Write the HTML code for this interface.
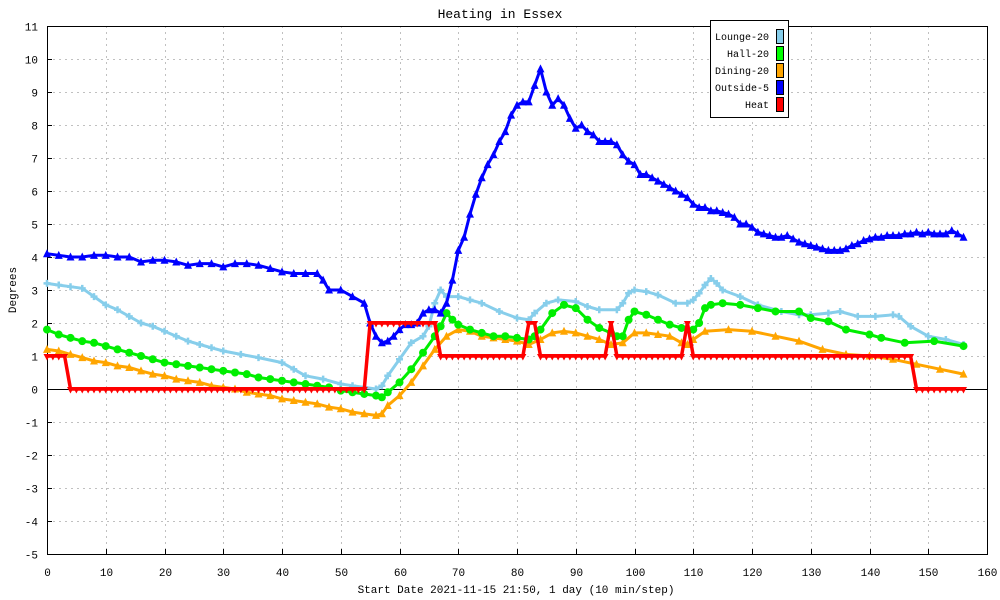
<!DOCTYPE html>
<html><head><meta charset="utf-8"><title>Heating in Essex</title>
<style>
html,body{margin:0;padding:0;background:#fff;}
svg{display:block;font-family:"Liberation Mono",monospace;}
</style></head>
<body>
<svg id="chart" width="1000" height="600" viewBox="0 0 1000 600" xmlns="http://www.w3.org/2000/svg">
<rect x="0" y="0" width="1000" height="600" fill="#fff"/>
<text x="500" y="18" text-anchor="middle" font-size="13">Heating in Essex</text>
<text transform="translate(16,290) rotate(-90)" text-anchor="middle" font-size="11">Degrees</text>
<text x="516" y="593" text-anchor="middle" font-size="11">Start Date 2021-11-15 21:50, 1 day (10 min/step)</text>
<g id="grid"></g>
<g id="axes"></g>
<g id="series"></g>
<g>
<rect x="710.5" y="20.5" width="78" height="97" fill="#fff" stroke="#000"/>
<g font-size="10" text-anchor="end">
<text x="769" y="40">Lounge-20</text>
<text x="769" y="57">Hall-20</text>
<text x="769" y="74">Dining-20</text>
<text x="769" y="91">Outside-5</text>
<text x="769" y="108">Heat</text>
</g>
<rect x="776.5" y="29.5" width="7" height="14" fill="#87ceeb" stroke="#000"/>
<rect x="776.5" y="46.5" width="7" height="14" fill="#00ff00" stroke="#000"/>
<rect x="776.5" y="63.5" width="7" height="14" fill="#ffa500" stroke="#000"/>
<rect x="776.5" y="80.5" width="7" height="14" fill="#0000ff" stroke="#000"/>
<rect x="776.5" y="97.5" width="7" height="14" fill="#ff0000" stroke="#000"/>
</g>
</svg>
<script>
const xTicks = [0,10,20,30,40,50,60,70,80,90,100,110,120,130,140,150,160];
const yTicks = [-5,-4,-3,-2,-1,0,1,2,3,4,5,6,7,8,9,10,11];

const outsideX = [0,2,4,6,8,10,12,14,16,18,20,22,24,26,28,30,32,34,36,38,40,42,44,46,47,48,50,52,54,55,56,57,58,59,60,61,62,63,64,65,66,67,68,69,70,71,72,73,74,75,76,77,78,79,80,81,82,83,84,85,86,87,88,89,90,91,92,93,94,95,96,97,98,99,100,101,102,103,104,105,106,107,108,109,110,111,112,113,114,115,116,117,118,119,120,121,122,123,124,125,126,127,128,129,130,131,132,133,134,135,136,137,138,139,140,141,142,143,144,145,146,147,148,149,150,151,152,153,154,155,156];
const outsideV = [4.1,4.05,4.0,4.0,4.05,4.05,4.0,4.0,3.85,3.9,3.9,3.85,3.75,3.8,3.8,3.7,3.8,3.8,3.75,3.65,3.55,3.5,3.5,3.5,3.3,3.0,3.0,2.8,2.6,2.0,1.6,1.4,1.45,1.6,1.8,1.95,1.95,2.0,2.3,2.4,2.4,2.3,2.6,3.3,4.2,4.6,5.3,5.9,6.4,6.8,7.1,7.5,7.8,8.3,8.6,8.7,8.7,9.2,9.7,9.0,8.6,8.8,8.6,8.2,7.9,8.0,7.8,7.7,7.5,7.5,7.5,7.4,7.1,6.9,6.8,6.5,6.5,6.4,6.3,6.2,6.1,6.0,5.9,5.8,5.6,5.5,5.5,5.4,5.4,5.35,5.3,5.2,5.0,5.0,4.9,4.75,4.7,4.65,4.6,4.6,4.65,4.55,4.45,4.4,4.35,4.3,4.25,4.2,4.2,4.2,4.25,4.35,4.4,4.5,4.55,4.6,4.6,4.65,4.65,4.65,4.7,4.7,4.75,4.7,4.75,4.7,4.7,4.7,4.8,4.7,4.6];

const loungeX = [0,2,4,6,8,10,12,14,16,18,20,22,24,26,28,30,33,36,40,42,44,47,50,52,54,56,57,58,60,62,64,65,66,67,68,70,72,74,77,80,82,83,85,87,90,92,94,97,98,99,100,102,104,107,109,110,111,112,113,114,115,118,121,125,128,130,133,135,138,141,144,145,147,150,153,156];
const loungeV = [3.2,3.15,3.1,3.05,2.8,2.55,2.4,2.2,2.0,1.9,1.75,1.6,1.45,1.35,1.25,1.15,1.05,0.95,0.8,0.6,0.4,0.3,0.15,0.1,0.05,0.0,0.1,0.4,0.9,1.4,1.6,1.9,2.6,3.0,2.8,2.8,2.7,2.6,2.35,2.15,2.1,2.3,2.6,2.7,2.65,2.5,2.4,2.4,2.6,2.9,3.0,2.95,2.85,2.6,2.6,2.7,2.9,3.15,3.35,3.2,3.0,2.8,2.55,2.35,2.25,2.25,2.3,2.35,2.2,2.2,2.25,2.2,1.9,1.6,1.5,1.35];

const hallX = [0,2,4,6,8,10,12,14,16,18,20,22,24,26,28,30,32,34,36,38,40,42,44,46,48,50,52,54,56,57,58,60,62,64,66,67,68,69,70,72,74,76,78,80,82,83,84,86,88,90,92,94,96,97,98,99,100,102,104,106,108,110,111,112,113,115,118,121,124,128,130,133,136,140,142,146,151,156];
const hallV = [1.8,1.65,1.55,1.45,1.4,1.3,1.2,1.1,1.0,0.9,0.8,0.75,0.7,0.65,0.6,0.55,0.5,0.45,0.35,0.3,0.25,0.2,0.15,0.1,0.05,-0.05,-0.1,-0.15,-0.2,-0.25,-0.1,0.2,0.6,1.1,1.6,1.9,2.3,2.1,1.95,1.8,1.7,1.6,1.6,1.55,1.5,1.6,1.8,2.3,2.55,2.45,2.1,1.85,1.7,1.6,1.6,2.1,2.35,2.25,2.1,1.95,1.85,1.8,2.0,2.45,2.55,2.6,2.55,2.45,2.35,2.35,2.15,2.05,1.8,1.65,1.55,1.4,1.45,1.3];

const diningX = [0,2,4,6,8,10,12,14,16,18,20,22,24,26,28,30,32,34,36,38,40,42,44,46,48,50,52,54,56,57,58,60,62,64,66,68,70,72,74,76,78,80,82,84,86,88,90,92,94,96,98,100,102,104,106,108,109,110,112,116,120,124,128,132,136,140,144,148,152,156];
const diningV = [1.2,1.15,1.05,0.95,0.85,0.8,0.7,0.65,0.55,0.45,0.4,0.3,0.25,0.2,0.1,0.05,0.0,-0.1,-0.15,-0.2,-0.3,-0.35,-0.4,-0.45,-0.55,-0.6,-0.7,-0.75,-0.8,-0.75,-0.5,-0.2,0.2,0.7,1.2,1.6,1.8,1.75,1.6,1.55,1.5,1.45,1.35,1.5,1.7,1.75,1.7,1.6,1.5,1.35,1.4,1.7,1.7,1.65,1.6,1.4,1.35,1.5,1.75,1.8,1.75,1.6,1.45,1.2,1.05,1.0,0.9,0.75,0.6,0.45];

const heatV = [1,1,1,1,0,0,0,0,0,0, 0,0,0,0,0,0,0,0,0,0, 0,0,0,0,0,0,0,0,0,0, 0,0,0,0,0,0,0,0,0,0, 0,0,0,0,0,0,0,0,0,0, 0,0,0,0,0,2,2,2,2,2, 2,2,2,2,2,2,2,1,1,1, 1,1,1,1,1,1,1,1,1,1, 1,1,2,2,1,1,1,1,1,1, 1,1,1,1,1,1,2,1,1,1, 1,1,1,1,1,1,1,1,1,2, 1,1,1,1,1,1,1,1,1,1, 1,1,1,1,1,1,1,1,1,1, 1,1,1,1,1,1,1,1,1,1, 1,1,1,1,1,1,1,1,0,0, 0,0,0,0,0,0,0];

const X0=47, X1=987, Y0=26, Y1=554;
const xs = v => X0 + (v - 0) * (X1 - X0) / 160;
const ys = v => Y1 - (v + 5) * (Y1 - Y0) / 16;
const NS = "http://www.w3.org/2000/svg";
function mk(tag, attrs, parent) {
  const e = document.createElementNS(NS, tag);
  for (const k in attrs) e.setAttribute(k, attrs[k]);
  parent.appendChild(e);
  return e;
}
const grid = document.getElementById('grid');
const axes = document.getElementById('axes');
const series = document.getElementById('series');

xTicks.forEach(t => {
  const x = Math.round(xs(t)) + 0.5;
  if (t > 0 && t < 160) {
    const g = mk('line', {x1:x, x2:x, y1:Y0, y2:Y1, stroke:'#c0c0c0', 'stroke-dasharray':'2,4'}, grid);
    
    
  }
  const tk = mk('line', {x1:x, x2:x, y1:Y1, y2:Y1-5, stroke:'#000'}, axes);
  
  
  const lb = mk('text', {x:x, y:576, 'text-anchor':'middle', 'font-size':'11'}, axes);
  lb.textContent = t;
  
  
});
yTicks.forEach(t => {
  const y = Math.round(ys(t)) + 0.5;
  if (t > -5 && t < 11 && t !== 0) {
    const g = mk('line', {x1:X0, x2:X1, y1:y, y2:y, stroke:'#c0c0c0', 'stroke-dasharray':'2,4'}, grid);
    
    
  }
  const tk = mk('line', {x1:X0, x2:X0+5, y1:y, y2:y, stroke:'#000'}, axes);
  
  
  const lb = mk('text', {x:38, y:y+4, 'text-anchor':'end', 'font-size':'11'}, axes);
  lb.textContent = t;
  
  
});
const zl = mk('line', {x1:X0, x2:X1, y1:Math.round(ys(0))+0.5, y2:Math.round(ys(0))+0.5, stroke:'#000'}, axes);


const fr = mk('rect', {x:X0+0.5, y:Y0+0.5, width:X1-X0, height:Y1-Y0, fill:'none', stroke:'#000'}, axes);



function marker(kind, x, y, color, g) {
  let e;
  if (kind === 'circle') e = mk('circle', {cx:x, cy:y, r:4, fill:color}, g);
  else if (kind === 'tri') e = mk('polygon', {points:`${x-4},${y+3.5} ${x+4},${y+3.5} ${x},${y-4.5}`, fill:color}, g);
  else if (kind === 'dtri') e = mk('polygon', {points:`${x-3.5},${y-2} ${x+3.5},${y-2} ${x},${y+4.5}`, fill:color}, g);
  else e = mk('path', {d:`M${x-3.5},${y}H${x+3.5}M${x},${y-3.5}V${y+3.5}`, stroke:color, 'stroke-width':2.5}, g);
  return e;
}
function drawSeries(name, xArr, vArr, color, kind, w) {
  const g = mk('g', {}, series);
  
  
  const pts = vArr.map((v, i) => xs(xArr[i]).toFixed(1) + ',' + ys(v).toFixed(1)).join(' ');
  const pl = mk('polyline', {points:pts, fill:'none', stroke:color, 'stroke-width':w, 'stroke-linejoin':'round'}, g);
  
  
  vArr.forEach((v, i) => {
    const m = marker(kind, xs(xArr[i]), ys(v), color, g);
    
    
  });
}
const heatX = heatV.map((v, i) => i);
drawSeries('lounge', loungeX, loungeV, '#87ceeb', 'cross', 3);
drawSeries('dining', diningX, diningV, '#ffa500', 'tri', 3);
drawSeries('hall', hallX, hallV, '#00ee00', 'circle', 3);
drawSeries('outside', outsideX, outsideV, '#0000ff', 'tri', 3);
drawSeries('heat', heatX, heatV, '#ff0000', 'dtri', 3.5);
</script>
</body></html>
